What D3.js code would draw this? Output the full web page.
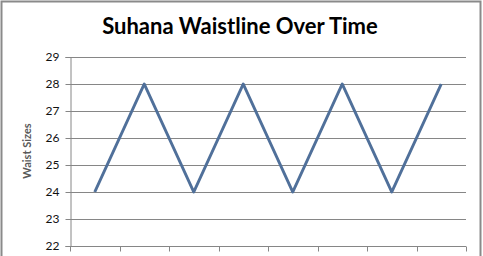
<!DOCTYPE html>
<html>
<head>
<meta charset="utf-8">
<script src="https://cdn.jsdelivr.net/npm/d3@7"></script>
<style>
  body { margin: 0; background: #fff; }
  svg { display: block; }
</style>
</head>
<body>
<svg id="chart" width="483" height="256"></svg>
<script>
//----------chart data----------
const periods = ["1", "2", "3", "4", "5", "6", "7", "8"];
const waistSizes = [24, 28, 24, 28, 24, 28, 24, 28];
const yTicks = [22, 23, 24, 25, 26, 27, 28, 29];

const svg = d3.select("#chart");
const plot = {left: 70, right: 466, top: 57, bottom: 246};

// outer frame, bottom edge runs off the picture
svg.append("rect")
  .attr("x", 1.5).attr("y", 1.5)
  .attr("width", 479).attr("height", 300)
  .attr("fill", "#fff")
  .attr("stroke", "#8a8a8a")
  .attr("stroke-width", 2);

// title
svg.append("text")
  .attr("x", 240).attr("y", 34)
  .attr("text-anchor", "middle")
  .style("font-family", "Lato, 'Open Sans', sans-serif")
  .style("font-weight", "bold")
  .style("font-size", "22px")
  .attr("fill", "#000")
  .text("Suhana Waistline Over Time");

//----------scales----------
const x = d3.scaleBand()
  .domain(periods)
  .range([plot.left, plot.right]);

const y = d3.scaleLinear()
  .domain([22, 29])
  .range([plot.bottom, plot.top]);

// gridlines
svg.append("g")
  .selectAll("line")
  .data(yTicks.filter(d => d > 22))
  .join("line")
  .attr("x1", plot.left).attr("x2", plot.right)
  .attr("y1", d => Math.round(y(d)) + 0.5)
  .attr("y2", d => Math.round(y(d)) + 0.5)
  .attr("stroke", "#868686")
  .attr("stroke-width", 1);

// y axis
const yAxis = svg.append("g")
  .attr("transform", `translate(${plot.left + 0.5},0)`)
  .call(d3.axisLeft(y).tickValues(yTicks).tickSize(5).tickPadding(6).tickFormat(d3.format("d")));
yAxis.selectAll("path, line").attr("stroke", "#868686");
yAxis.selectAll("text")
  .style("font-family", "Lato, 'Open Sans', sans-serif")
  .style("font-size", "12px")
  .attr("fill", "#111");
yAxis.selectAll(".tick").attr("transform", d => `translate(0,${Math.round(y(d)) + 0.5})`);

// x axis, ticks on band edges, labels not shown
const xEdges = periods.map(p => x(p)).concat([plot.right]);
const xAxis = svg.append("g")
  .attr("transform", `translate(0,${Math.round(y(22)) + 0.5})`);
xAxis.append("line")
  .attr("x1", plot.left).attr("x2", plot.right)
  .attr("stroke", "#868686");
xAxis.selectAll(".xtick")
  .data(xEdges)
  .join("line")
  .attr("class", "xtick")
  .attr("x1", d => Math.round(d) + 0.5).attr("x2", d => Math.round(d) + 0.5)
  .attr("y1", 0).attr("y2", 5)
  .attr("stroke", "#868686");

// y axis title
svg.append("text")
  .attr("transform", "translate(31,151) rotate(-90)")
  .attr("text-anchor", "middle")
  .style("font-family", "Lato, 'Open Sans', sans-serif")
  .style("font-weight", "bold")
  .style("font-size", "11px")
  .attr("fill", "#5a5a5a")
  .text("Waist Sizes");

//----------series line----------
const line = d3.line()
  .x((d, i) => x(periods[i]) + x.bandwidth() / 2)
  .y(d => y(d));

svg.append("path")
  .datum(waistSizes)
  .attr("d", line)
  .attr("fill", "none")
  .attr("stroke", "#50709a")
  .attr("stroke-width", 3)
  .attr("stroke-linejoin", "round");
</script>
</body>
</html>
